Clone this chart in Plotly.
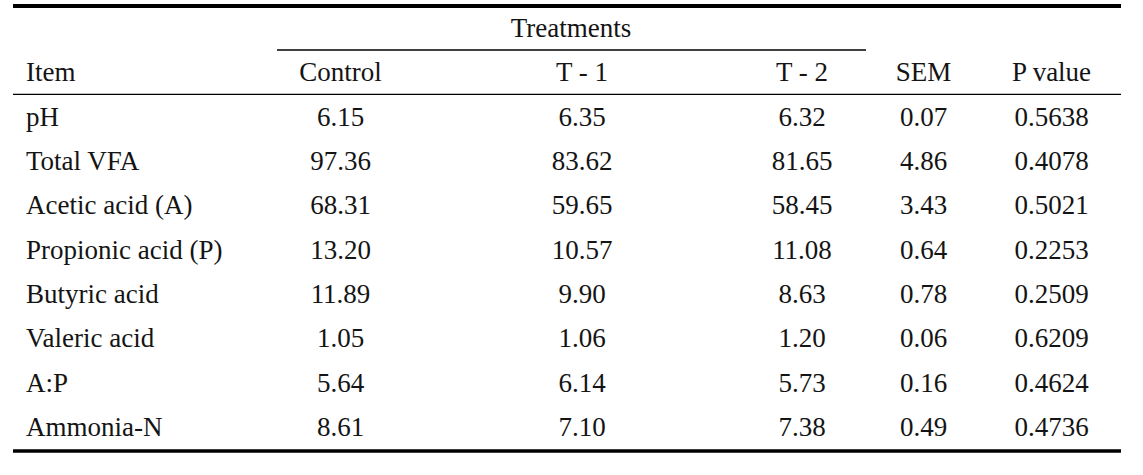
import plotly.graph_objects as go

items = ["pH", "Total VFA", "Acetic acid (A)", "Propionic acid (P)", "Butyric acid",
         "Valeric acid", "A:P", "Ammonia-N"]
control = ["6.15", "97.36", "68.31", "13.20", "11.89", "1.05", "5.64", "8.61"]
t1 = ["6.35", "83.62", "59.65", "10.57", "9.90", "1.06", "6.14", "7.10"]
t2 = ["6.32", "81.65", "58.45", "11.08", "8.63", "1.20", "5.73", "7.38"]
sem = ["0.07", "4.86", "3.43", "0.64", "0.78", "0.06", "0.16", "0.49"]
pval = ["0.5638", "0.4078", "0.5021", "0.2253", "0.2509", "0.6209", "0.4624", "0.4736"]
headers = ["Item", "Control", "T - 1", "T - 2", "SEM", "P value"]
group_header = "Treatments"

W, H = 1143, 475
FONT = dict(family="Liberation Serif, DejaVu Serif, serif", size=27, color="#141414")

col_x = [26, 340.5, 582, 802, 923.5, 1051.5]
header_y = 74
group_y = 30
row_y0 = 119
row_dy = 44.3

fig = go.Figure()

fig.add_trace(go.Scatter(x=[571], y=[group_y], text=[group_header], mode="text",
                         textposition="middle center", textfont=FONT, hoverinfo="skip"))
fig.add_trace(go.Scatter(x=[col_x[0]], y=[header_y], text=[headers[0]], mode="text",
                         textposition="middle right", textfont=FONT, hoverinfo="skip"))
fig.add_trace(go.Scatter(x=col_x[1:], y=[header_y] * 5, text=headers[1:], mode="text",
                         textposition="middle center", textfont=FONT, hoverinfo="skip"))

ys = [row_y0 + i * row_dy for i in range(len(items))]
fig.add_trace(go.Scatter(x=[col_x[0]] * len(items), y=ys, text=items, mode="text",
                         textposition="middle right", textfont=FONT, hoverinfo="skip"))
for cx, vals in zip(col_x[1:], [control, t1, t2, sem, pval]):
    fig.add_trace(go.Scatter(x=[cx] * len(vals), y=ys, text=vals, mode="text",
                             textposition="middle center", textfont=FONT, hoverinfo="skip"))

fig.add_shape(type="line", x0=13, x1=1121, y0=6, y1=6, line=dict(color="black", width=4))
fig.add_shape(type="line", x0=277, x1=866, y0=50, y1=50, line=dict(color="black", width=1.3))
fig.add_shape(type="line", x0=13, x1=1121, y0=94.3, y1=94.3, line=dict(color="black", width=1.3))
fig.add_shape(type="line", x0=13, x1=1121, y0=451, y1=451, line=dict(color="black", width=3.6))

fig.update_layout(width=W, height=H, margin=dict(l=0, r=0, t=0, b=0),
                  paper_bgcolor="white", plot_bgcolor="white", showlegend=False,
                  hovermode=False,
                  xaxis=dict(range=[0, W], visible=False, fixedrange=True),
                  yaxis=dict(range=[H, 0], visible=False, fixedrange=True))
fig.write_html("out.html", config={"displayModeBar": False},
               post_script="document.body.style.margin='0';")
